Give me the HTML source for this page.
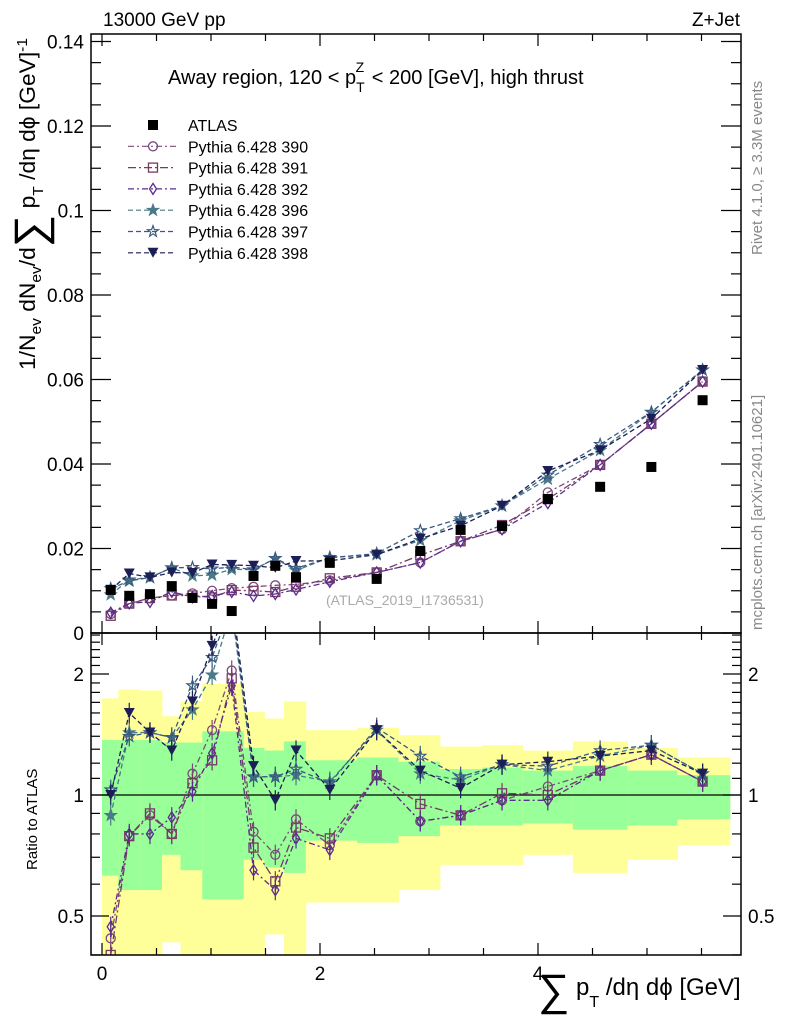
<!DOCTYPE html>
<html><head><meta charset="utf-8"><style>
body{margin:0;background:#fff;}
svg{font-family:"Liberation Sans",sans-serif;}
</style></head><body>
<svg id="c" width="786" height="1024" viewBox="0 0 786 1024" xmlns="http://www.w3.org/2000/svg">
<defs>
<clipPath id="cm"><rect x="91" y="34" width="650" height="599"/></clipPath>
<clipPath id="cr"><rect x="91" y="633" width="650" height="322"/></clipPath>
</defs>
<g id="bands" clip-path="url(#cr)"></g>
<g id="mainLayer" clip-path="url(#cm)"></g>
<g id="ratioLayer" clip-path="url(#cr)"></g>
<g id="axes"></g>
<text x="103" y="26" font-size="19">13000 GeV pp</text>
<text x="740" y="26" font-size="19" text-anchor="end">Z+Jet</text>
<text x="168" y="84" font-size="20">Away region, 120 &lt; p<tspan font-size="14" dy="8">T</tspan><tspan font-size="14" dx="-9" dy="-20">Z</tspan><tspan dy="12" dx="2"> &lt; 200 [GeV], high thrust</tspan></text>
<text x="326" y="605" font-size="14" fill="#aaa">(ATLAS_2019_I1736531)</text>
<text transform="translate(762,255) rotate(-90)" font-size="15" fill="#888">Rivet 4.1.0, ≥ 3.3M events</text>
<text transform="translate(762,630) rotate(-90)" font-size="15" fill="#888">mcplots.cern.ch [arXiv:2401.10621]</text>
<g transform="translate(35,370) rotate(-90)">
<text x="0" y="0" font-size="22" textLength="332" lengthAdjust="spacingAndGlyphs">1/N<tspan font-size="15" dy="6">ev</tspan><tspan dy="-6"> dN</tspan><tspan font-size="15" dy="6">ev</tspan><tspan dy="-6">/d</tspan><tspan font-size="44" dy="10">∑</tspan><tspan dy="-10"> p</tspan><tspan font-size="15" dy="8">T</tspan><tspan dy="-8"> /dη dϕ  [GeV]</tspan><tspan font-size="15" dy="-8">-1</tspan></text>
</g>
<text transform="translate(37,870) rotate(-90)" font-size="15">Ratio to ATLAS</text>
<text x="538" y="1005" font-size="44">∑<tspan font-size="24" dy="-10"> p</tspan><tspan font-size="16" dy="12">T</tspan><tspan font-size="24" dy="-12"> /dη dϕ [GeV]</tspan></text>
<g id="legend"></g>
</svg>
<script>
const edges=[0,0.15,0.35,0.55,0.72,0.92,1.1,1.3,1.49,1.67,1.87,2.34,2.72,3.1,3.49,3.86,4.32,4.82,5.28,5.76];
const xs=[0.08,0.25,0.44,0.64,0.83,1.01,1.19,1.39,1.59,1.78,2.09,2.52,2.92,3.29,3.67,4.09,4.57,5.04,5.51];
const dataY=[0.0102,0.0088,0.0092,0.0111,0.0083,0.0069,0.0052,0.0135,0.0159,0.0132,0.0166,0.0128,0.0194,0.0244,0.0253,0.0317,0.0346,0.0393,0.0551];
const yelHi=[1.74,1.83,1.82,1.57,1.71,1.89,1.89,1.61,1.55,1.71,1.45,1.47,1.41,1.32,1.33,1.29,1.36,1.31,1.24];
const yelLo=[0.38,0.38,0.38,0.43,0.38,0.38,0.38,0.38,0.45,0.38,0.54,0.54,0.58,0.67,0.67,0.71,0.64,0.69,0.75];
const grnHi=[1.37,1.37,1.37,1.35,1.35,1.44,1.44,1.31,1.29,1.36,1.22,1.24,1.21,1.16,1.17,1.15,1.18,1.15,1.12];
const grnLo=[0.63,0.58,0.58,0.71,0.65,0.55,0.55,0.69,0.66,0.64,0.77,0.76,0.79,0.84,0.84,0.85,0.82,0.84,0.87];
const r390=[0.44,0.79,0.89,0.80,1.13,1.45,2.04,0.81,0.71,0.87,0.75,1.12,0.86,0.89,0.97,1.05,1.15,1.26,1.08];
const r391=[0.40,0.79,0.90,0.80,1.07,1.22,1.95,0.74,0.61,0.83,0.78,1.12,0.95,0.89,1.01,1.00,1.15,1.26,1.08];
const r392=[0.47,0.80,0.80,0.88,1.02,1.27,1.87,0.65,0.58,0.78,0.73,1.12,0.86,0.89,0.97,0.97,1.15,1.26,1.08];
const r396=[0.89,1.43,1.43,1.39,1.63,1.99,2.9,1.11,1.11,1.12,1.08,1.45,1.13,1.09,1.19,1.15,1.25,1.33,1.13];
const r397=[1.03,1.40,1.43,1.39,1.87,2.20,3.0,1.11,1.11,1.16,1.07,1.47,1.25,1.11,1.19,1.18,1.29,1.33,1.13];
const r398=[1.00,1.60,1.43,1.29,1.71,2.35,3.1,1.18,0.97,1.29,1.03,1.45,1.15,1.04,1.19,1.21,1.25,1.29,1.13];
const xTicks=[0,2,4];
const yTicks=[0,0.02,0.04,0.06,0.08,0.1,0.12,0.14];
const yTickLabels=["0","0.02","0.04","0.06","0.08","0.1","0.12","0.14"];
const rTicks=[0.5,1,2];
const rTickLabels=["0.5","1","2"];

const NS="http://www.w3.org/2000/svg";
const X=v=>102+v*109;
const Y=v=>633-v*4225;
const R=v=>795-121*Math.log2(v);
function el(tag,attrs,parent){const e=document.createElementNS(NS,tag);for(const k in attrs)e.setAttribute(k,attrs[k]);parent.appendChild(e);return e;}
const bands=document.getElementById('bands'),mainL=document.getElementById('mainLayer'),ratL=document.getElementById('ratioLayer'),axes=document.getElementById('axes'),leg=document.getElementById('legend');
for(let i=0;i<xs.length;i++){
  const y=el('rect',{x:X(edges[i]),width:X(edges[i+1])-X(edges[i])+0.5,y:R(yelHi[i]),height:R(yelLo[i])-R(yelHi[i]),fill:'#ffff99'},bands);
  
  
  const g=el('rect',{x:X(edges[i]),width:X(edges[i+1])-X(edges[i])+0.5,y:R(grnHi[i]),height:R(grnLo[i])-R(grnHi[i]),fill:'#99ff99'},bands);
  
  
}
const l1=el('line',{x1:91,x2:741,y1:R(1),y2:R(1),stroke:'#000','stroke-width':1.3},ratL);



function marker(type,cx,cy,col,parent){
  const s=4.5;let m;
  if(type==='sq')m=el('rect',{x:cx-s,y:cy-s,width:2*s,height:2*s,fill:'none',stroke:col,'stroke-width':1.3},parent);
  else if(type==='ci')m=el('circle',{cx,cy,r:s,fill:'none',stroke:col,'stroke-width':1.3},parent);
  else if(type==='di')m=el('polygon',{points:`${cx},${cy-s-1} ${cx+s-1},${cy} ${cx},${cy+s+1} ${cx-s+1},${cy}`,fill:'none',stroke:col,'stroke-width':1.3},parent);
  else if(type==='st'||type==='sto'){let p=[];for(let k=0;k<10;k++){const a=-Math.PI/2+k*Math.PI/5,r=k%2?2.3:5.8;p.push((cx+r*Math.cos(a)).toFixed(1)+','+(cy+r*Math.sin(a)).toFixed(1));}
    m=el('polygon',{points:p.join(' '),fill:type==='st'?col:'none',stroke:col,'stroke-width':1.2},parent);}
  else if(type==='tr')m=el('polygon',{points:`${cx-5.5},${cy-5} ${cx+5.5},${cy-5} ${cx},${cy+5}`,fill:col},parent);
  else if(type==='data')m=el('rect',{x:cx-5,y:cy-5,width:10,height:10,fill:'#000'},parent);
  return m;
}
const series=[
 {name:'Pythia 6.428 390',r:r390,col:'#7b4a7e',m:'ci',dash:'6,3,2,3'},
 {name:'Pythia 6.428 391',r:r391,col:'#763a63',m:'sq',dash:'8,3,2,3'},
 {name:'Pythia 6.428 392',r:r392,col:'#5a2c8c',m:'di',dash:'6,3,2,3'},
 {name:'Pythia 6.428 396',r:r396,col:'#4a7a88',m:'st',dash:'5,3'},
 {name:'Pythia 6.428 397',r:r397,col:'#3a5a80',m:'sto',dash:'5,3'},
 {name:'Pythia 6.428 398',r:r398,col:'#1c1f55',m:'tr',dash:'5,3'}];
series.forEach(s=>{
  const mp=xs.map((x,i)=>X(x)+','+Y(s.r[i]*dataY[i])).join(' ');
  const pl=el('polyline',{points:mp,fill:'none',stroke:s.col,'stroke-width':1.3,'stroke-dasharray':s.dash},mainL);
  
  
  const rp=xs.map((x,i)=>X(x)+','+R(s.r[i])).join(' ');
  const rl=el('polyline',{points:rp,fill:'none',stroke:s.col,'stroke-width':1.3,'stroke-dasharray':s.dash},ratL);
  
  
  xs.forEach((x,i)=>{
    const a=marker(s.m,X(x),Y(s.r[i]*dataY[i]),s.col,mainL);
    
    
    const yv=R(s.r[i]);
    const e=el('line',{x1:X(x),x2:X(x),y1:R(s.r[i]*1.06),y2:R(s.r[i]/1.06),stroke:s.col,'stroke-width':1.2},ratL);
    
    
    const b=marker(s.m,X(x),yv,s.col,ratL);
    
    
  });
});
xs.forEach((x,i)=>{
  const d=marker('data',X(x),Y(dataY[i]),'#000',mainL);
  
  
});
[[91,34,650,599],[91,633,650,322]].forEach(f=>{
  const r=el('rect',{x:f[0],y:f[1],width:f[2],height:f[3],fill:'none',stroke:'#000','stroke-width':1.5},axes);
  
  
});
for(let v=0;v<=5.8;v+=0.5){
  const maj=Math.abs(v%2)<1e-6, L=maj?12:7;
  [[34,1],[633,-1],[633,1],[955,-1]].forEach(([y0,d])=>el('line',{x1:X(v),x2:X(v),y1:y0,y2:y0+d*L,stroke:'#000','stroke-width':1.2},axes));
}
xTicks.forEach(v=>{const t=el('text',{x:X(v),y:980,'font-size':19,'text-anchor':'middle'},axes);t.textContent=v;
  
  });
for(let v=0;v<=0.1405;v+=0.005){
  const maj=Math.abs((v/0.02)-Math.round(v/0.02))<1e-6,L=maj?20:10;
  el('line',{x1:91,x2:91+L,y1:Y(v),y2:Y(v),stroke:'#000','stroke-width':1.2},axes);
  el('line',{x1:741,x2:741-L,y1:Y(v),y2:Y(v),stroke:'#000','stroke-width':1.2},axes);
}
yTicks.forEach((v,i)=>{const t=el('text',{x:84,y:Y(v)+7,'font-size':19,'text-anchor':'end'},axes);t.textContent=yTickLabels[i];
  
  });
for(let v=0.4;v<=2.55;v+=0.1){
  const maj=rTicks.some(t=>Math.abs(t-v)<1e-6),L=maj?18:9;
  el('line',{x1:91,x2:91+L,y1:R(v),y2:R(v),stroke:'#000','stroke-width':1.2},axes);
  el('line',{x1:741,x2:741-L,y1:R(v),y2:R(v),stroke:'#000','stroke-width':1.2},axes);
}
rTicks.forEach((v,i)=>{
  const t=el('text',{x:84,y:R(v)+7,'font-size':19,'text-anchor':'end'},axes);t.textContent=rTickLabels[i];
  
  
  const t2=el('text',{x:748,y:R(v)+7,'font-size':19},axes);t2.textContent=rTickLabels[i];
  
  
});
const ly0=125;
marker('data',153,ly0,'#000',leg);
const lt=el('text',{x:188,y:ly0+6,'font-size':16},leg);lt.textContent='ATLAS';


series.forEach((s,i)=>{
  const y=ly0+21.3*(i+1);
  el('line',{x1:128,x2:176,y1:y,y2:y,stroke:s.col,'stroke-width':1.2,'stroke-dasharray':s.dash},leg);
  marker(s.m,153,y,s.col,leg);
  const t=el('text',{x:188,y:y+6,'font-size':16},leg);t.textContent=s.name;
  
  
});
</script>
</body></html>
